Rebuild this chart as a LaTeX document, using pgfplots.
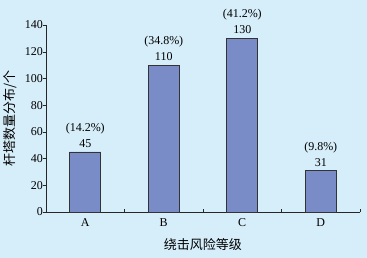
\documentclass[border=0pt]{standalone}
\usepackage{pgfplots}
\usepackage{pgfplotstable}
\pgfplotsset{compat=1.18}
\usepackage{fontspec}
\setmainfont{Liberation Serif}
\newfontfamily\cjk{Noto Sans CJK SC}
\definecolor{bgc}{RGB}{214,238,250}
\definecolor{barc}{RGB}{122,140,200}
\pgfplotstableread[col sep=comma]{
x,y,p
0,45,14.2
1,110,34.8
2,130,41.2
3,31,9.8
}\data
\begin{document}
\fontsize{12bp}{14bp}\selectfont
\begin{tikzpicture}
\path[use as bounding box, fill=bgc] (0,0) rectangle (367bp,258bp);
\begin{axis}[
  at={(46bp,46bp)}, anchor=south west,
  scale only axis, width=314bp, height=187bp,
  xmin=-0.5, xmax=3.5, ymin=0, ymax=140,
  axis lines=left, axis line style={-, black!85},
  xtick={0,1,2,3}, xticklabels={A,B,C,D},
  minor xtick={0.5,1.5,2.5,3.5},
  ytick={0,20,...,140},
  tick align=inside,
  major x tick style={draw=none},
  minor tick length=3bp, major tick length=3bp,
  y tick style={xshift=-3bp, black!85},
  minor x tick style={black!85},
  /pgf/number format/assume math mode=true,
  tick label style={font=\fontsize{12bp}{13bp}\selectfont},
  xticklabel style={yshift=-2bp},
  yticklabel style={xshift=1bp},
  ylabel={\cjk 杆塔数量分布/个},
  xlabel={\cjk 绕击风险等级},
  label style={font=\fontsize{13bp}{14bp}\selectfont},
  xlabel style={yshift=-4bp},
  ylabel style={yshift=0bp},
  clip=false,
]
\addplot[ybar, bar width=31bp, fill=barc, draw=black!80, line width=0.6bp,
  point meta=explicit symbolic,
  visualization depends on={rawy \as \rawy},
  nodes near coords={(\pgfplotspointmeta\%)\\\pgfmathprintnumber[fixed,precision=0]{\rawy}},
  nodes near coords style={align=center, font=\fontsize{12bp}{16bp}\selectfont, black, inner sep=2bp, yshift=2bp},
] table[x=x, y=y, meta=p] {\data};
\end{axis}
\end{tikzpicture}
\end{document}
